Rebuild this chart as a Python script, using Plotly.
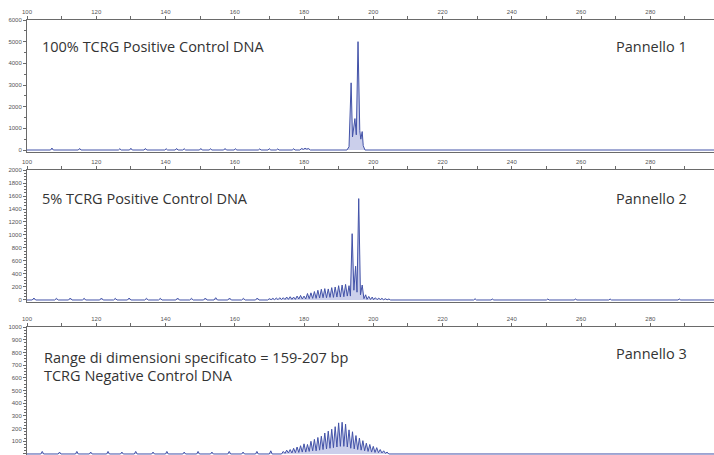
import plotly.graph_objects as go

# ---------------- data ----------------
# Panel 1: 100% TCRG Positive Control DNA (size in bp, signal in RFU)
p1_bp = [100,
         106.8, 107.2, 107.6, 114.8, 115.2, 115.6, 126.4, 126.8, 127.2, 129.6, 130.0, 130.4,
         133.8, 134.2, 134.6, 139.8, 140.2, 140.6, 142.8, 143.2, 143.6, 145.0, 145.4, 145.8,
         149.8, 150.2, 150.6, 152.6, 153.0, 153.4, 156.8, 157.2, 157.6, 159.8, 160.2, 160.6,
         166.8, 167.2, 167.6, 169.6, 170.0, 170.4, 172.0, 172.4, 172.8, 176.6, 177.0, 177.4,
         178.8, 179.3, 179.8, 180.3, 180.8, 181.3, 181.8,
         192.4, 193.0, 193.6, 194.0, 194.7, 195.1, 195.6, 196.1, 196.4, 196.8, 197.1, 197.6,
         298.5]
p1_rfu = [0,
          0, 90, 0, 0, 70, 0, 0, 60, 0, 0, 80, 0,
          0, 70, 0, 0, 60, 0, 0, 70, 0, 0, 60, 0,
          0, 70, 0, 0, 60, 0, 0, 70, 0, 0, 60, 0,
          0, 50, 0, 0, 60, 0, 0, 50, 0, 0, 60, 0,
          0, 70, 30, 80, 40, 70, 0,
          0, 150, 3100, 600, 1450, 700, 5000, 900, 500, 850, 200, 0,
          0]

# Panel 2: 5% TCRG Positive Control DNA
p2_bp = [100,
         101.5, 102, 102.5, 108, 108.5, 109, 112, 112.5, 113, 116, 116.5, 117,
         121, 121.5, 122, 125, 125.5, 126, 129, 129.5, 130, 134, 134.5, 135,
         138, 138.5, 139, 143, 143.5, 144, 147, 147.5, 148, 151, 151.5, 152,
         154, 154.5, 155, 158, 158.5, 159, 162, 162.5, 163, 166, 166.5, 167,
         169.5, 170, 170.5, 171, 171.5, 172, 172.5, 173, 173.5, 174, 174.5,
         175, 175.5, 176, 176.5, 177, 177.5, 178, 178.5, 179, 179.5,
         180, 180.5, 181, 181.5, 182, 182.5, 183, 183.5, 184, 184.5,
         185, 185.5, 186, 186.5, 187, 187.5, 188, 188.5, 189, 189.5,
         190, 190.5, 191, 191.5, 192, 192.5, 193.0, 193.4, 193.9, 194.4,
         194.9, 195.3, 195.8, 196.3, 196.8, 197.3, 197.8, 198.2, 198.7, 199.2,
         199.7, 200.1, 200.6, 201.1, 201.6, 202.0, 202.5, 203.0, 203.5, 204.0,
         204.5, 205.0,
         229, 229.4, 229.8, 234, 234.4, 234.8, 250, 250.4, 250.8,
         258, 258.4, 258.8, 268, 268.4, 268.8, 288, 288.4, 288.8,
         298.5]
p2_rfu = [0,
          0, 30, 0, 0, 25, 0, 0, 30, 0, 0, 25, 0,
          0, 30, 0, 0, 25, 0, 0, 30, 0, 0, 25, 0,
          0, 25, 0, 0, 30, 0, 0, 25, 0, 0, 30, 0,
          0, 35, 0, 0, 30, 0, 0, 25, 0, 0, 30, 0,
          0, 20, 5, 25, 5, 30, 5, 35, 8, 35, 8,
          45, 10, 50, 10, 45, 10, 60, 15, 70, 15,
          60, 15, 100, 20, 110, 25, 130, 25, 150, 30,
          165, 35, 175, 35, 170, 40, 190, 40, 200, 45,
          220, 45, 230, 50, 240, 60, 220, 60, 1020, 150,
          520, 120, 1560, 80, 230, 20, 80, 10, 55, 8,
          45, 5, 35, 5, 30, 5, 25, 3, 20, 3,
          15, 0,
          0, 20, 0, 0, 15, 0, 0, 15, 0,
          0, 15, 0, 0, 15, 0, 0, 15, 0,
          0]

# Panel 3: TCRG Negative Control DNA
p3_bp = [100,
         104, 104.4, 104.8, 109, 109.4, 109.8, 114, 114.4, 114.8, 118, 118.4, 118.8,
         123, 123.4, 123.8, 127, 127.4, 127.8, 131, 131.4, 131.8, 136, 136.4, 136.8,
         140, 140.4, 140.8, 145, 145.4, 145.8, 149, 149.4, 149.8, 153, 153.4, 153.8,
         158, 158.4, 158.8, 162, 162.4, 162.8, 166, 166.4, 166.8, 170, 170.4, 170.8,
         173.5, 174, 174.5, 175, 175.5, 176, 176.5, 177, 177.5, 178, 178.5,
         179, 179.5, 180, 180.5, 181, 181.5, 182, 182.5, 183, 183.5,
         184, 184.5, 185, 185.5, 186, 186.5, 187, 187.5, 188, 188.5,
         189, 189.5, 190, 190.5, 191, 191.5, 192, 192.5, 193, 193.5,
         194, 194.5, 195, 195.5, 196, 196.5, 197, 197.5, 198, 198.5,
         199, 199.5, 200, 200.5, 201, 201.5, 202, 202.5, 203, 203.5,
         204, 204.5,
         298.5]
p3_rfu = [0,
          0, 20, 0, 0, 15, 0, 0, 20, 0, 0, 15, 0,
          0, 20, 0, 0, 15, 0, 0, 20, 0, 0, 15, 0,
          0, 20, 0, 0, 15, 0, 0, 20, 0, 0, 15, 0,
          0, 20, 0, 0, 15, 0, 0, 20, 0, 0, 25, 0,
          0, 20, 5, 30, 8, 35, 8, 45, 10, 55, 12,
          65, 15, 80, 15, 75, 20, 100, 25, 115, 25,
          130, 30, 140, 35, 165, 40, 180, 45, 195, 50,
          215, 55, 245, 60, 250, 60, 235, 55, 190, 45,
          175, 40, 145, 35, 125, 30, 105, 25, 85, 20,
          75, 15, 60, 12, 50, 10, 35, 8, 25, 5,
          15, 0,
          0]

assert len(p1_bp) == len(p1_rfu)
assert len(p2_bp) == len(p2_rfu)
assert len(p3_bp) == len(p3_rfu)

panel_labels = ["100% TCRG Positive Control DNA",
                "5% TCRG Positive Control DNA",
                "Range di dimensioni specificato = 159-207 bp",
                "TCRG Negative Control DNA"]
panel_names = ["Pannello 1", "Pannello 2", "Pannello 3"]

x_tickvals = [100, 120, 140, 160, 180, 200, 220, 240, 260, 280]
y1_tickvals = [0, 1000, 2000, 3000, 4000, 5000, 6000]
y2_tickvals = [0, 200, 400, 600, 800, 1000, 1200, 1400, 1600, 1800, 2000]
y3_tickvals = [0, 100, 200, 300, 400, 500, 600, 700, 800, 900, 1000]

# ---------------- figure ----------------
W, H = 714, 455
LINE = "#4252a8"
FILL = "rgba(125,135,205,0.40)"
AX = "#6a6a6a"
TICKFONT = dict(family="Liberation Sans, Arial, sans-serif", size=6, color="#555555")

fig = go.Figure()
for i, (xs, ys) in enumerate([(p1_bp, p1_rfu), (p2_bp, p2_rfu), (p3_bp, p3_rfu)]):
    suffix = "" if i == 0 else str(i + 1)
    fig.add_trace(go.Scatter(x=xs, y=ys, mode="lines",
                             line=dict(color=LINE, width=1),
                             fill="tozeroy", fillcolor=FILL,
                             xaxis="x" + suffix, yaxis="y" + suffix,
                             showlegend=False, hoverinfo="skip"))

def px_to_paper_y(py):
    return 1 - py / H

x_range = [100, 298.4]
domains = [
    [px_to_paper_y(152), px_to_paper_y(20)],
    [px_to_paper_y(302), px_to_paper_y(170)],
    [0.0, px_to_paper_y(327)],
]
y_ranges = [[-92, 6000], [-31, 2000], [-8, 1000]]
y_ticks = [y1_tickvals, y2_tickvals, y3_tickvals]
y_minor = [500, 50, 25]

layout = dict(width=W, height=H, margin=dict(l=27, r=0, t=0, b=0, autoexpand=False),
              paper_bgcolor="white", plot_bgcolor="white", showlegend=False)

for i in range(3):
    suffix = "" if i == 0 else str(i + 1)
    layout["xaxis" + suffix] = dict(
        range=x_range, domain=[0, 1], side="top", anchor="y" + suffix,
        tickvals=x_tickvals, ticktext=[str(v) for v in x_tickvals],
        ticks="outside", ticklen=3, tickcolor=AX, tickwidth=1,
        minor=dict(dtick=10, tick0=100, ticks="outside", ticklen=3, tickcolor=AX),
        showline=True, linecolor=AX, linewidth=1, mirror=True,
        showgrid=False, zeroline=False, tickfont=TICKFONT, automargin=False)
    layout["yaxis" + suffix] = dict(
        range=y_ranges[i], domain=domains[i], anchor="x" + suffix,
        tickvals=y_ticks[i], ticktext=[str(v) for v in y_ticks[i]],
        ticks="outside", ticklen=3, tickcolor=AX, tickwidth=1,
        minor=dict(dtick=y_minor[i], tick0=0, ticks="outside", ticklen=2, tickcolor=AX),
        showline=True, linecolor=AX, linewidth=1,
        showgrid=False, zeroline=False, tickfont=TICKFONT, automargin=False)

fig.update_layout(**layout)

TXT = dict(family="Open Sans, sans-serif", size=14.5, color="#333333")
PL = 27
def px_to_paper_x(px):
    return (px - PL) / (W - PL)

ann = [
    (panel_labels[0], 40, 47, "left"),
    (panel_names[0], 689, 47, "right"),
    (panel_labels[1], 40, 198, "left"),
    (panel_names[1], 689, 198, "right"),
    (panel_labels[2], 42, 357, "left"),
    (panel_labels[3], 42, 375, "left"),
    (panel_names[2], 689, 353, "right"),
]
for text, px, py, anchor in ann:
    fig.add_annotation(text=text, xref="paper", yref="paper",
                       x=px_to_paper_x(px), y=px_to_paper_y(py),
                       xanchor=anchor, yanchor="middle", showarrow=False,
                       font=TXT)

fig.write_html("out.html",
               config=dict(displayModeBar=False, staticPlot=True),
               post_script="document.body.style.margin='0';document.body.style.overflow='hidden';")
